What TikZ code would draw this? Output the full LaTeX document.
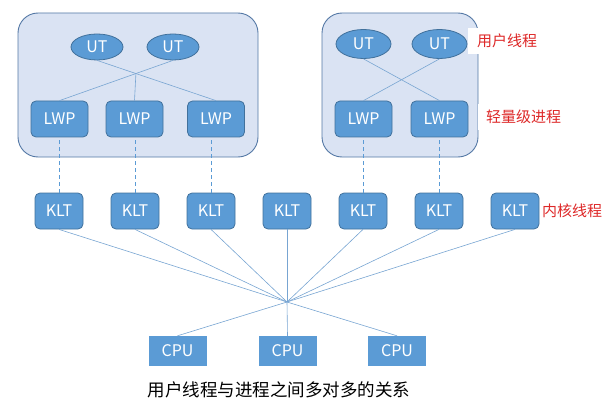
\documentclass[tikz,border=0pt]{standalone}
\usepackage{fontspec}
\setmainfont{Noto Sans CJK SC}
\usetikzlibrary{shapes.geometric}
\definecolor{nodefill}{RGB}{91,155,213}
\definecolor{nodeedge}{RGB}{65,113,156}
\definecolor{boxfill}{RGB}{218,227,243}
\definecolor{boxedge}{RGB}{84,120,165}
\definecolor{linkc}{RGB}{120,165,210}
\definecolor{labelred}{RGB}{222,40,40}
\tikzset{
  procbox/.style={draw=boxedge, fill=boxfill, line width=0.9pt, rounded corners=20pt},
  utnode/.style={ellipse, draw=nodeedge, fill=nodefill, line width=0.8pt, inner sep=0pt,
    text=white, font=\fontsize{16}{16}\selectfont},
  lwpnode/.style={rectangle, draw=nodeedge, fill=nodefill, line width=0.8pt, rounded corners=5pt,
    minimum width=57pt, minimum height=36pt, inner sep=0pt, text=white, font=\fontsize{16}{16}\selectfont},
  kltnode/.style={lwpnode, minimum width=48pt},
  cpunode/.style={rectangle, fill=nodefill, minimum width=58pt, minimum height=30pt, inner sep=0pt,
    text=white, font=\fontsize{16}{16}\selectfont},
  link/.style={draw=linkc, line width=0.6pt},
  dlink/.style={draw=nodefill, line width=0.8pt, dash pattern=on 4pt off 3pt},
  redlabel/.style={fill=white, text=labelred, inner xsep=9pt, inner ysep=6pt, font=\fontsize{15}{15}\selectfont},
}
\begin{document}
\begin{tikzpicture}[x=1pt,y=-1pt]
\useasboundingbox (0,0) rectangle (610,409);
% process boxes
\path[procbox] (18,13) rectangle (258,157);
\path[procbox] (322,13) rectangle (478,157);
% labels with white background
\node[redlabel] (lblut) at (507,41) {用户线程};
\node[redlabel, inner xsep=8pt] (lbllwp) at (523.5,117) {轻量级进程};
\node[redlabel, inner xsep=2pt] (lblklt) at (572,211) {内核线程};
% user threads
\node[utnode, minimum width=52pt, minimum height=26pt] (ut1) at (97,47) {UT};
\node[utnode, minimum width=52pt, minimum height=26pt] (ut2) at (173,47) {UT};
\node[utnode, minimum width=55pt, minimum height=29pt] (ut3) at (363.5,44) {UT};
\node[utnode, minimum width=55pt, minimum height=29pt] (ut4) at (439.5,44) {UT};
% LWPs
\node[lwpnode] (lwp1) at (59.5,119) {LWP};
\node[lwpnode] (lwp2) at (134.5,119) {LWP};
\node[lwpnode] (lwp3) at (216,119) {LWP};
\node[lwpnode] (lwp4) at (363.5,119) {LWP};
\node[lwpnode] (lwp5) at (439.5,119) {LWP};
% KLTs
\node[kltnode] (k1) at (59,211) {KLT};
\node[kltnode] (k2) at (135,211) {KLT};
\node[kltnode] (k3) at (211,211) {KLT};
\node[kltnode] (k4) at (287,211) {KLT};
\node[kltnode] (k5) at (363,211) {KLT};
\node[kltnode] (k6) at (439,211) {KLT};
\node[kltnode] (k7) at (515,211) {KLT};
% CPUs
\node[cpunode] (c1) at (177.5,351) {CPU};
\node[cpunode] (c2) at (287.5,351) {CPU};
\node[cpunode] (c3) at (397,351) {CPU};
\coordinate (hub) at (287,302);
% UT - LWP links
\draw[link] (ut1.south) -- (lwp3.north);
\draw[link] (ut2.south) -- (lwp1.north);
\coordinate (cross) at (intersection of ut1.south--lwp3.north and ut2.south--lwp1.north);
\draw[link] (cross) -- (lwp2.north);
\draw[link] (ut3.south) -- (lwp5.north);
\draw[link] (ut4.south) -- (lwp4.north);
% LWP - KLT dashed links
\draw[dlink] (k1.north) -- (k1.north |- lwp1.south);
\draw[dlink] (k2.north) -- (k2.north |- lwp2.south);
\draw[dlink] (k3.north) -- (k3.north |- lwp3.south);
\draw[dlink] (k5.north) -- (k5.north |- lwp4.south);
\draw[dlink] (k6.north) -- (k6.north |- lwp5.south);
% KLT - CPU links
\foreach \k in {k1,k2,k3,k4,k5,k6,k7} \draw[link] (\k.south) -- (hub);
\foreach \c in {c1,c2,c3} \draw[link] (hub) -- (\c.north);
% caption
\node[font=\fontsize{17.5}{17.5}\selectfont, text=black] (cap) at (279,390) {用户线程与进程之间多对多的关系};
\end{tikzpicture}
\end{document}
